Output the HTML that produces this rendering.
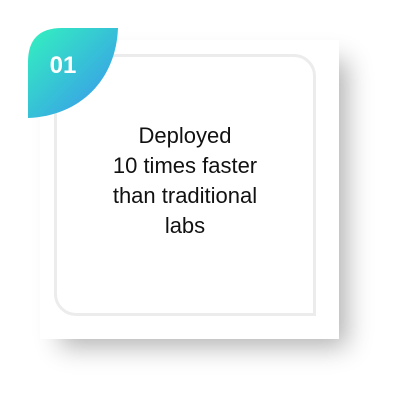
<!DOCTYPE html>
<html><head><style>
html,body{margin:0;padding:0;background:#fff;width:400px;height:400px;overflow:hidden}
.card{position:absolute;left:40px;top:40px;width:299px;height:299px;background:#fff;box-shadow:14px 14px 24px -6px rgba(0,0,0,0.3)}
.inner{position:absolute;left:54px;top:54px;width:256px;height:256px;border:3px solid #ececec;border-radius:22px 22px 0 22px;background:#fff}
.txt{position:absolute;left:54px;top:121px;width:262px;text-align:center;font-family:"Liberation Sans",sans-serif;font-size:22px;line-height:30px;color:#111}
</style></head><body>
<div class="card"></div>
<div class="inner"></div>
<svg style="position:absolute;left:0;top:0" width="400" height="400">
<defs><linearGradient id="g" x1="0" y1="0" x2="1" y2="1"><stop offset="0" stop-color="#33f2be"/><stop offset="1" stop-color="#3a8ff0"/></linearGradient></defs>
<path d="M62 28 L118 28 C116 80 80 116 28 118 L28 62 Q28 28 62 28 Z" fill="url(#g)"/>
<text x="63" y="73" text-anchor="middle" font-family="Liberation Sans,sans-serif" font-weight="bold" font-size="24" fill="#fff">01</text>
</svg>
<div class="txt">Deployed<br>10 times faster<br>than traditional<br>labs</div>
</body></html>
